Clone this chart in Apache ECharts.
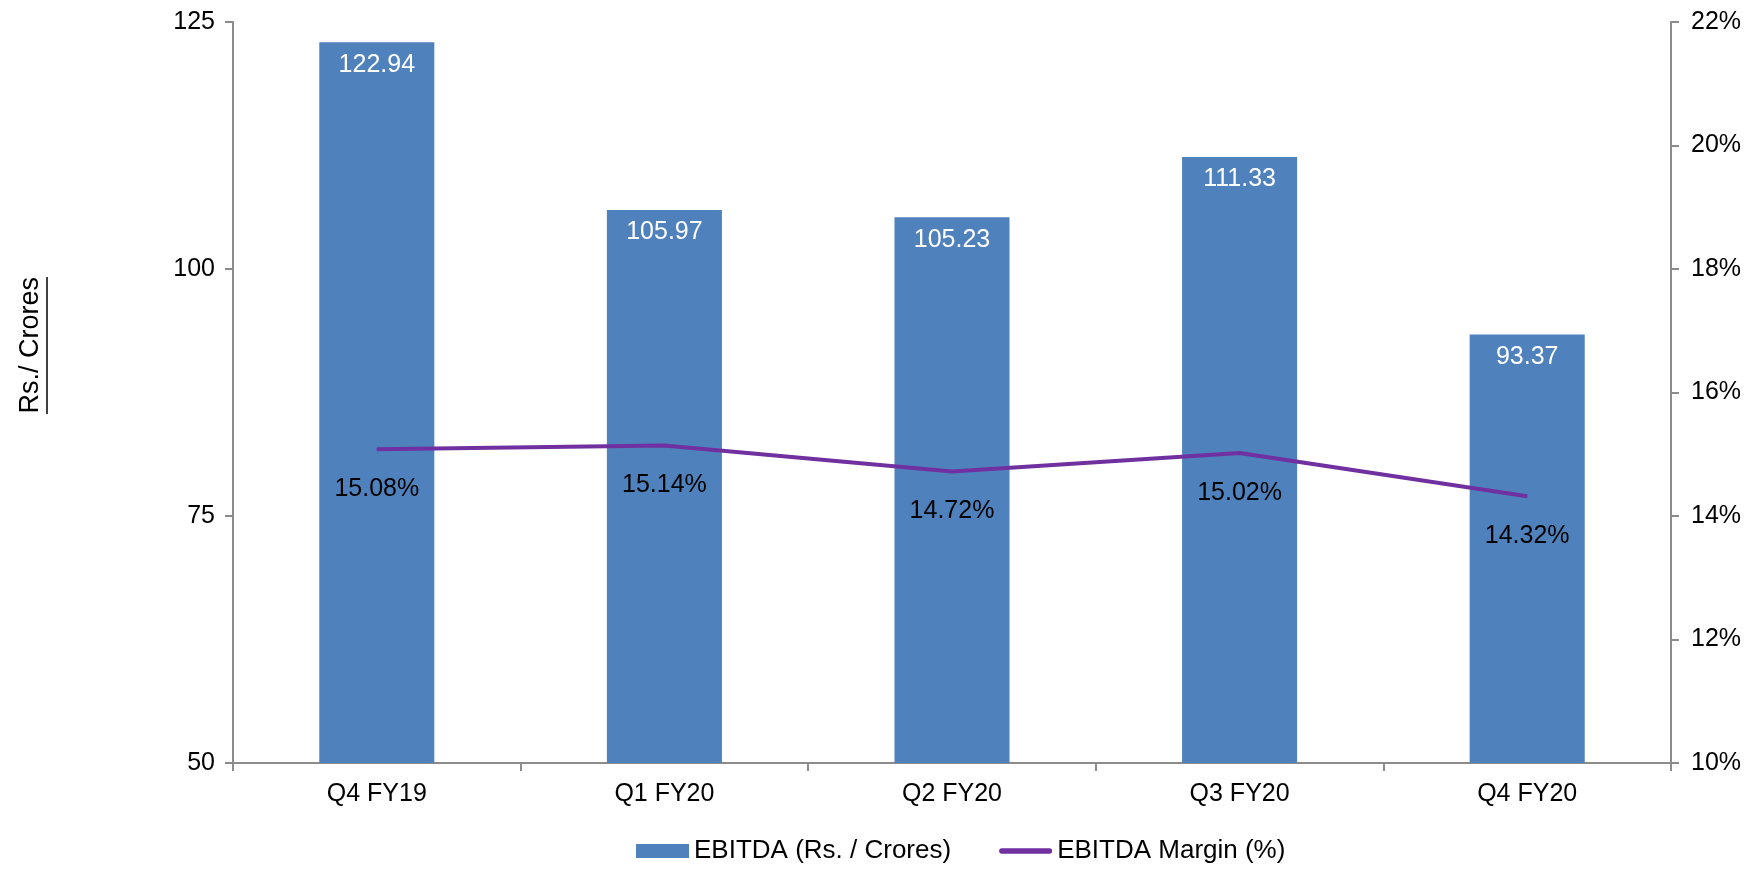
<!DOCTYPE html>
<html>
<head>
<meta charset="utf-8">
<script src="https://cdn.jsdelivr.net/npm/echarts@6/dist/echarts.min.js"></script>
<style>
html, body { margin: 0; padding: 0; background: #fff; }
#container { width: 1758px; height: 871px; }
</style>
</head>
<body>
<div id="container"></div>
<script>
var quarters = ['Q4 FY19', 'Q1 FY20', 'Q2 FY20', 'Q3 FY20', 'Q4 FY20'];
var ebitda = [122.94, 105.97, 105.23, 111.33, 93.37];
var margin = [15.08, 15.14, 14.72, 15.02, 14.32];

var dom = document.getElementById('container');
var myChart = echarts.init(dom);
var font = 'Liberation Sans, Arial, sans-serif';

var option = {
    animation: false,
    textStyle: { fontFamily: font },
    grid: {
        left: 233,
        right: 87,
        top: 22,
        bottom: 108
    },
    legend: {
        top: 833,
        left: 631,
        itemGap: 48,
        itemWidth: 53,
        itemHeight: 14,
        textStyle: { fontSize: 26, color: '#000', fontFamily: font },
        data: [
            { name: 'EBITDA (Rs. / Crores)', icon: 'rect' },
            { name: 'EBITDA Margin (%)', icon: 'path://M5,0 L95,0 A5,5 0 0 1 95,10 L5,10 A5,5 0 0 1 5,0 Z' }
        ]
    },
    graphic: [{
        type: 'text',
        left: 17,
        top: 277,
        rotation: Math.PI / 2,
        style: { text: 'Rs./ Crores', fontSize: 27, fill: '#000', fontFamily: font },
        silent: true
    }, {
        type: 'line',
        shape: { x1: 47, y1: 277, x2: 47, y2: 414 },
        style: { stroke: '#000', lineWidth: 1.5 },
        silent: true
    }],
    xAxis: {
        type: 'category',
        data: quarters,
        axisLine: { lineStyle: { color: '#8c8c8c', width: 2 } },
        axisTick: { show: true, length: 8, alignWithLabel: false, lineStyle: { color: '#8c8c8c', width: 2 } },
        axisLabel: { fontSize: 25, color: '#000', margin: 19 }
    },
    yAxis: [{
        type: 'value',
        min: 50,
        max: 125,
        interval: 25,
        splitLine: { show: false },
        axisLine: { show: true, lineStyle: { color: '#8c8c8c', width: 2 } },
        axisTick: { show: true, length: 8, lineStyle: { color: '#8c8c8c', width: 2 } },
        axisLabel: { fontSize: 25, color: '#000', margin: 18 }
    }, {
        type: 'value',
        min: 10,
        max: 22,
        interval: 2,
        splitLine: { show: false },
        axisLine: { show: true, lineStyle: { color: '#8c8c8c', width: 2 } },
        axisTick: { show: true, length: 8, lineStyle: { color: '#8c8c8c', width: 2 } },
        axisLabel: { fontSize: 25, color: '#000', margin: 20, formatter: '{value}%' }
    }],
    series: [{
        name: 'EBITDA (Rs. / Crores)',
        type: 'bar',
        data: ebitda,
        barWidth: '40%',
        itemStyle: { color: '#4F81BD' },
        label: {
            show: true,
            position: 'insideTop',
            distance: 10,
            color: '#fff',
            fontSize: 25,
            formatter: function (p) { return p.value.toFixed(2); }
        }
    }, {
        name: 'EBITDA Margin (%)',
        type: 'line',
        yAxisIndex: 1,
        data: margin,
        symbol: 'circle',
        symbolSize: 1,
        showSymbol: true,
        z: 5,
        lineStyle: { color: '#7030A0', width: 4 },
        itemStyle: { color: '#7030A0' },
        label: {
            show: true,
            position: 'bottom',
            distance: 27,
            color: '#000',
            fontSize: 25,
            formatter: function (p) { return p.value.toFixed(2) + '%'; }
        }
    }]
};

myChart.setOption(option, true);
</script>
</body>
</html>
